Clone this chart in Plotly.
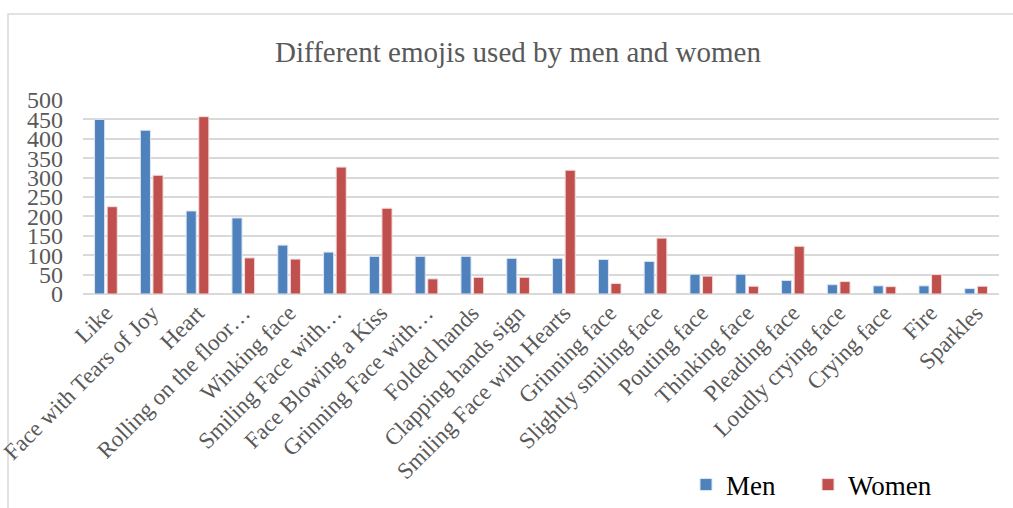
import plotly.graph_objects as go

categories = ["Like", "Face with Tears of Joy", "Heart", "Rolling on the floor…",
              "Winking face", "Smiling Face with…", "Face Blowing a Kiss",
              "Grinning Face with…", "Folded hands", "Clapping hands sign",
              "Smiling Face with Hearts", "Grinning face", "Slightly smiling face",
              "Pouting face", "Thinking face", "Pleading face", "Loudly crying face",
              "Crying face", "Fire", "Sparkles"]
men = [450, 422, 214, 196, 126, 108, 97, 97, 97, 92, 92, 89, 84, 51, 51, 35, 24, 21, 21, 14]
women = [225, 306, 457, 93, 90, 327, 221, 39, 43, 43, 319, 27, 144, 46, 20, 123, 32, 19, 50, 20]
y_ticks = [0, 50, 100, 150, 200, 250, 300, 350, 400, 450, 500]

W, H = 1013, 508
L, R, T, B = 83, 14, 100, 214
pw, ph = W - L - R, H - T - B

fig = go.Figure()
fig.add_trace(go.Bar(name="Men", x=categories, y=men, marker_color="#4F81BD",
                     marker_line=dict(color="#DCE6F2", width=1), legend="legend",
                     showlegend=True))
fig.add_trace(go.Bar(name="Women", x=categories, y=women, marker_color="#C0504D",
                     marker_line=dict(color="#F2DCDB", width=1), legend="legend2",
                     showlegend=True))

serif = "Liberation Serif, Times New Roman, serif"
leg_common = dict(orientation="h", xref="container", yref="container", xanchor="left",
                  y=(H - 485) / H, yanchor="middle", visible=True,
                  font=dict(family=serif, size=27, color="#000000"),
                  itemwidth=30, bgcolor="rgba(0,0,0,0)")
fig.update_layout(
    width=W, height=H, showlegend=True,
    margin=dict(l=L, r=R, t=T, b=B, autoexpand=False),
    paper_bgcolor="white", plot_bgcolor="white",
    barmode="group", bargap=0.45, bargroupgap=0.2,
    title=dict(text="Different emojis used by men and women", x=518 / W, xanchor="center",
               y=1 - 52 / H, yanchor="middle", font=dict(family=serif, size=29, color="#595959")),
    font=dict(family=serif, color="#595959"),
    xaxis=dict(tickangle=-45, tickfont=dict(family=serif, size=23, color="#595959"),
               showgrid=False, showline=False, ticks="", automargin=False),
    yaxis=dict(range=[0, 500], tickvals=y_ticks, showgrid=True, gridcolor="#D9D9D9",
               gridwidth=1.5, zeroline=True, zerolinecolor="#D9D9D9", zerolinewidth=1.5,
               tickfont=dict(family=serif, size=24, color="#595959"), ticks="",
               ticklabelstandoff=19, automargin=False),
    legend=dict(x=686 / W, **leg_common),
    legend2=dict(x=808 / W, **leg_common),
    shapes=[dict(type="rect", xref="paper", yref="paper",
                 x0=(8 - L) / pw, x1=(W + 20 - L) / pw,
                 y0=(ph + T - 14) / ph, y1=-(B + 20) / ph,
                 line=dict(color="#D9D9D9", width=1.5), fillcolor="rgba(0,0,0,0)", layer="below")],
)

fig.write_html("out.html")
